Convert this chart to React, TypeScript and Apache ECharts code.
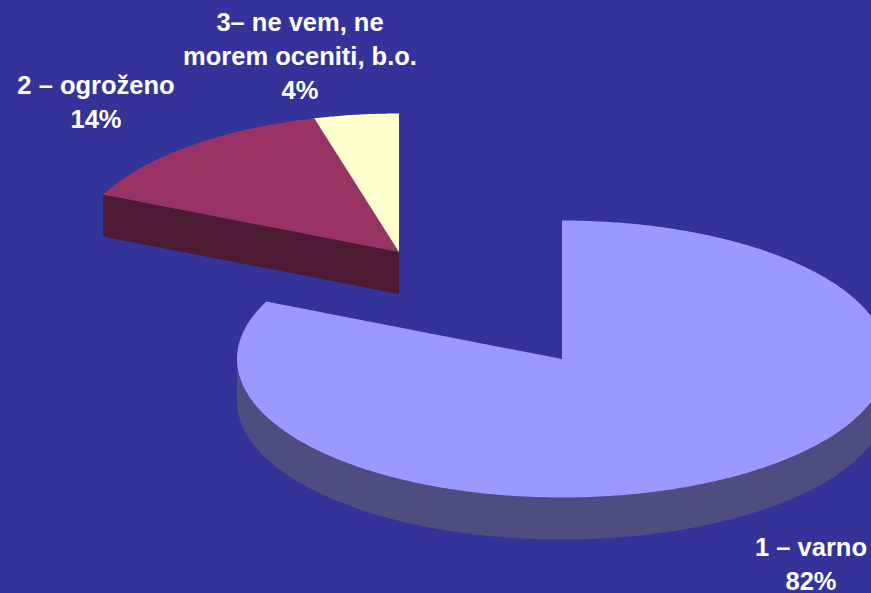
import React, { useEffect, useRef } from "react";
import * as echarts from "echarts";

const categories = ["1 – varno", "2 – ogroženo", "3– ne vem, ne\nmorem oceniti, b.o."];
const values = [81.8, 14.0, 4.2];
const percentLabels = ["82%", "14%", "4%"];
const topColors = ["#9999ff", "#993366", "#ffffcc"];
const wallColors = ["#4d4d80", "#4d1a33", "#808066"];
const centers = [[562, 359], [399, 252], [399, 252]];
const labelCenters = [[811, 564], [96, 102], [300, 56]];

const RX = 325;
const RY = 138.5;
const DEPTH = 42;
const LINE_PITCH = 34;
const total = values.reduce((a, b) => a + b, 0);

const rad = (d: number) => (d * Math.PI) / 180;
const rim = (c: number[], deg: number, dy = 0) => [
  c[0] + RX * Math.sin(rad(deg)),
  c[1] - RY * Math.cos(rad(deg)) + dy,
];
const arc = (c: number[], from: number, to: number, dy = 0) => {
  const pts: number[][] = [];
  const n = Math.max(2, Math.ceil(Math.abs(to - from) * 2));
  for (let i = 0; i <= n; i++) pts.push(rim(c, from + ((to - from) * i) / n, dy));
  return pts;
};

function renderItem(params: any, api: any) {
  const i = params.dataIndex;
  let start = 0;
  for (let k = 0; k < i; k++) start += (values[k] / total) * 360;
  const end = start + (api.value(0) / total) * 360;
  const c = centers[i];
  const children: any[] = [];
  const wall = (points: number[][]) =>
    children.push({ type: "polygon", shape: { points }, style: { fill: wallColors[i] } });

  // outer rim: only the part facing the viewer (90°..270°)
  const a = Math.max(start, 90);
  const b = Math.min(end, 270);
  if (a < b) wall([...arc(c, a, b), ...arc(c, b, a, DEPTH)]);

  // cut face where the slice separates from its neighbour
  const prev = centers[i - 1];
  const separated = !prev || prev[0] !== c[0] || prev[1] !== c[1];
  if (separated && Math.sin(rad(start)) < -1e-6) {
    const e = rim(c, start);
    wall([e, c, [c[0], c[1] + DEPTH], [e[0], e[1] + DEPTH]]);
  }

  children.push({
    type: "polygon",
    shape: { points: [c, ...arc(c, start, end)] },
    style: { fill: topColors[i] },
  });

  const lines = (categories[i] + "\n" + percentLabels[i]).split("\n");
  lines.forEach((line, j) => {
    children.push({
      type: "text",
      x: labelCenters[i][0],
      y: labelCenters[i][1] + (j - (lines.length - 1) / 2) * LINE_PITCH,
      style: {
        text: line,
        fill: "#ffffff",
        font: "bold 25.5px 'Liberation Sans', Arial, sans-serif",
        lineHeight: 22,
        align: "center",
        verticalAlign: "middle",
      },
    });
  });
  return { type: "group", children };
}

export default function App() {
  const ref = useRef<HTMLDivElement>(null);
  useEffect(() => {
    const chart = echarts.init(ref.current!, undefined, { renderer: "svg" });
    chart.setOption({
      animation: false,
      backgroundColor: "#333399",
      series: [
        {
          type: "custom",
          coordinateSystem: "none",
          silent: true,
          data: values.map((v) => [v]),
          renderItem,
        },
      ],
    });
    return () => chart.dispose();
  }, []);
  return <div ref={ref} style={{ position: "fixed", left: 0, top: 0, width: 871, height: 593 }} />;
}
